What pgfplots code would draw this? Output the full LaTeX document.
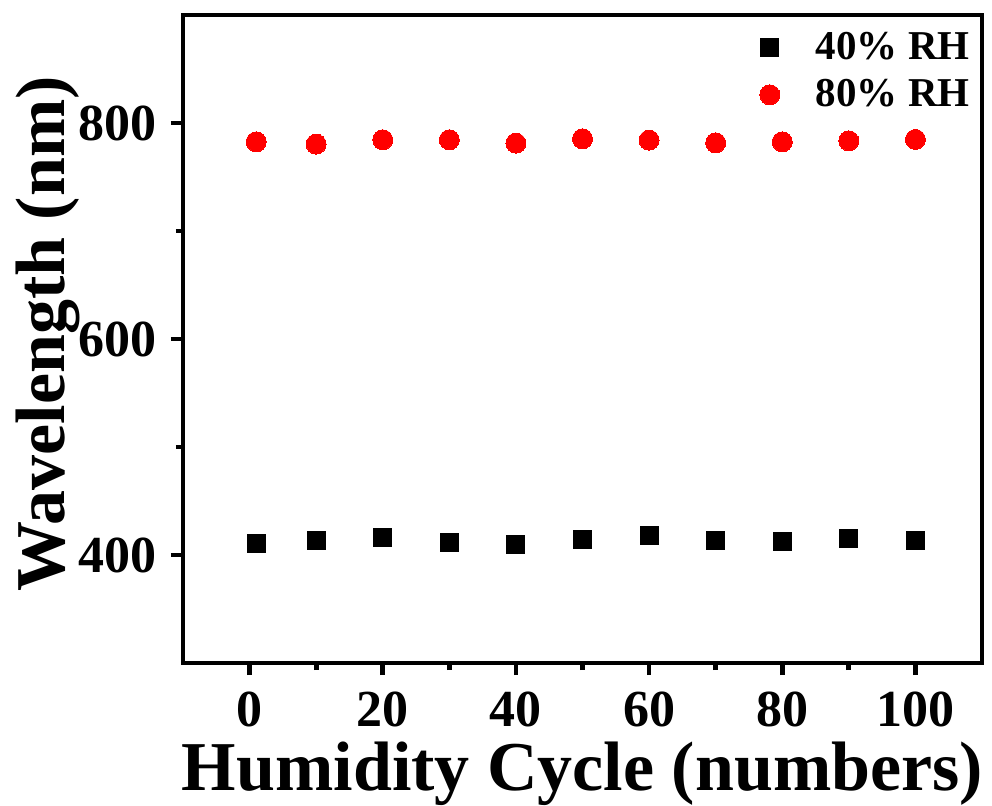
\documentclass[border=0pt]{standalone}
\usepackage{pgfplots}
\pgfplotsset{compat=1.18}
\usepackage{fontspec}
\setmainfont{Liberation Serif}
\begin{document}
\begin{tikzpicture}
\begin{axis}[
  scale only axis,
  width=399.5pt, height=324pt,
  xmin=-10, xmax=110, ymin=300, ymax=900,
  xtick={0,20,...,100}, ytick={400,600,800},
  minor x tick num=1, minor y tick num=1,
  tick pos=left, tick align=outside,
  major tick length=6pt, minor tick length=3.5pt,
  every outer x axis line/.append style={line width=2.4pt},
  every outer y axis line/.append style={line width=2.4pt},
  axis line style={line width=2.4pt},
  tick style={line width=2.4pt, black},
  /pgf/number format/assume math mode=true,
  ticklabel style={font=\fontsize{26}{30}\selectfont\bfseries},
  yticklabel style={inner sep=0pt, anchor=east, xshift=-7pt},
  xticklabel style={inner sep=0pt, anchor=north, yshift=-8.5pt},
  xlabel={Humidity Cycle (numbers)},
  ylabel={Wavelength (nm)},
  xlabel style={font=\fontsize{35}{40}\selectfont\bfseries, at={(axis description cs:0.5,-0.196)}, anchor=base, inner sep=0pt},
  ylabel style={font=\fontsize{35}{40}\selectfont\bfseries, at={(axis description cs:-0.1477,0.508)}, anchor=base, rotate=0, inner sep=0pt},
  legend style={draw=none, fill=none, at={(axis description cs:1,1)}, anchor=north east,
    yshift=-4.5pt, xshift=-2pt, inner sep=0pt, row sep=0.5pt, column sep=14pt,
    font=\fontsize{20.5}{24}\selectfont\bfseries,
    nodes={inner xsep=4pt, inner ysep=4pt, text depth=0.15em}},
  legend cell align=left,
]
\addplot[only marks, mark=square*, mark size=4.5pt, mark options={fill=black, draw=black, line width=0pt}]
  coordinates {(1,410.2) (10,413) (20,416.1) (30,411.2) (40,410) (50,414) (60,418) (70,413) (80,412.1) (90,415.2) (100,413)};
\addlegendentry{40\% RH}
\addplot[only marks, mark=*, mark size=5pt, mark options={fill=red, draw=red, line width=0pt}]
  coordinates {(1,782.6) (10,780.5) (20,784.5) (30,784.5) (40,781.4) (50,785.4) (60,784.2) (70,781.7) (80,782.6) (90,783.5) (100,784.8)};
\addlegendentry{80\% RH}
\end{axis}
\pgfresetboundingbox
\path (current axis.south west) ++(-91.5pt,-71pt) rectangle ++(496pt,402.5pt);
\end{tikzpicture}
\end{document}
